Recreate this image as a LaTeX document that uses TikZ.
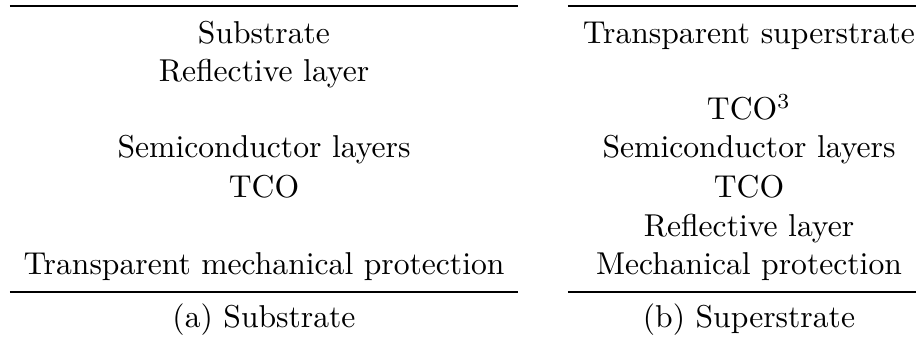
\documentclass[tikz,border=0pt]{standalone}
\usetikzlibrary{positioning}
\begin{document}
\begin{tikzpicture}[x=0.3257pt,y=-0.3257pt,
  cell/.style={anchor=base,inner sep=0pt,font=\fontsize{10.3pt}{12pt}\selectfont},
  rule/.style={line width=0.8pt}]
\useasboundingbox (0,0) rectangle (916,340);
% left table
\coordinate (lt1) at (10,6);
\coordinate (lt2) at (518,6);
\coordinate (lb1) at (10,292);
\coordinate (lb2) at (518,292);
\draw[rule] (lt1) -- (lt2);
\draw[rule] (lb1) -- (lb2);
\node[cell] (a1) at (264,44) {Substrate};
\node[cell] (a2) at (264,82) {Reflective layer};
\node[cell] (a4) at (264,158) {Semiconductor layers};
\node[cell] (a5) at (264,198) {TCO};
\node[cell] (a7) at (264,275) {Transparent mechanical protection};
\node[cell] (ca) at (264,328) {(a) Substrate};
% right table
\coordinate (rt1) at (568,6);
\coordinate (rt2) at (931,6);
\coordinate (rb1) at (568,292);
\coordinate (rb2) at (931,292);
\draw[rule] (rt1) -- (rt2);
\draw[rule] (rb1) -- (rb2);
\node[cell] (b1) at (749,44) {Transparent superstrate};
\node[cell] (b3) at (749,120) {TCO$^3$};
\node[cell] (b4) at (749,158) {Semiconductor layers};
\node[cell] (b5) at (749,198) {TCO};
\node[cell] (b6) at (749,237) {Reflective layer};
\node[cell] (b7) at (749,275) {Mechanical protection};
\node[cell] (cb) at (749,328) {(b) Superstrate};
\end{tikzpicture}
\end{document}
